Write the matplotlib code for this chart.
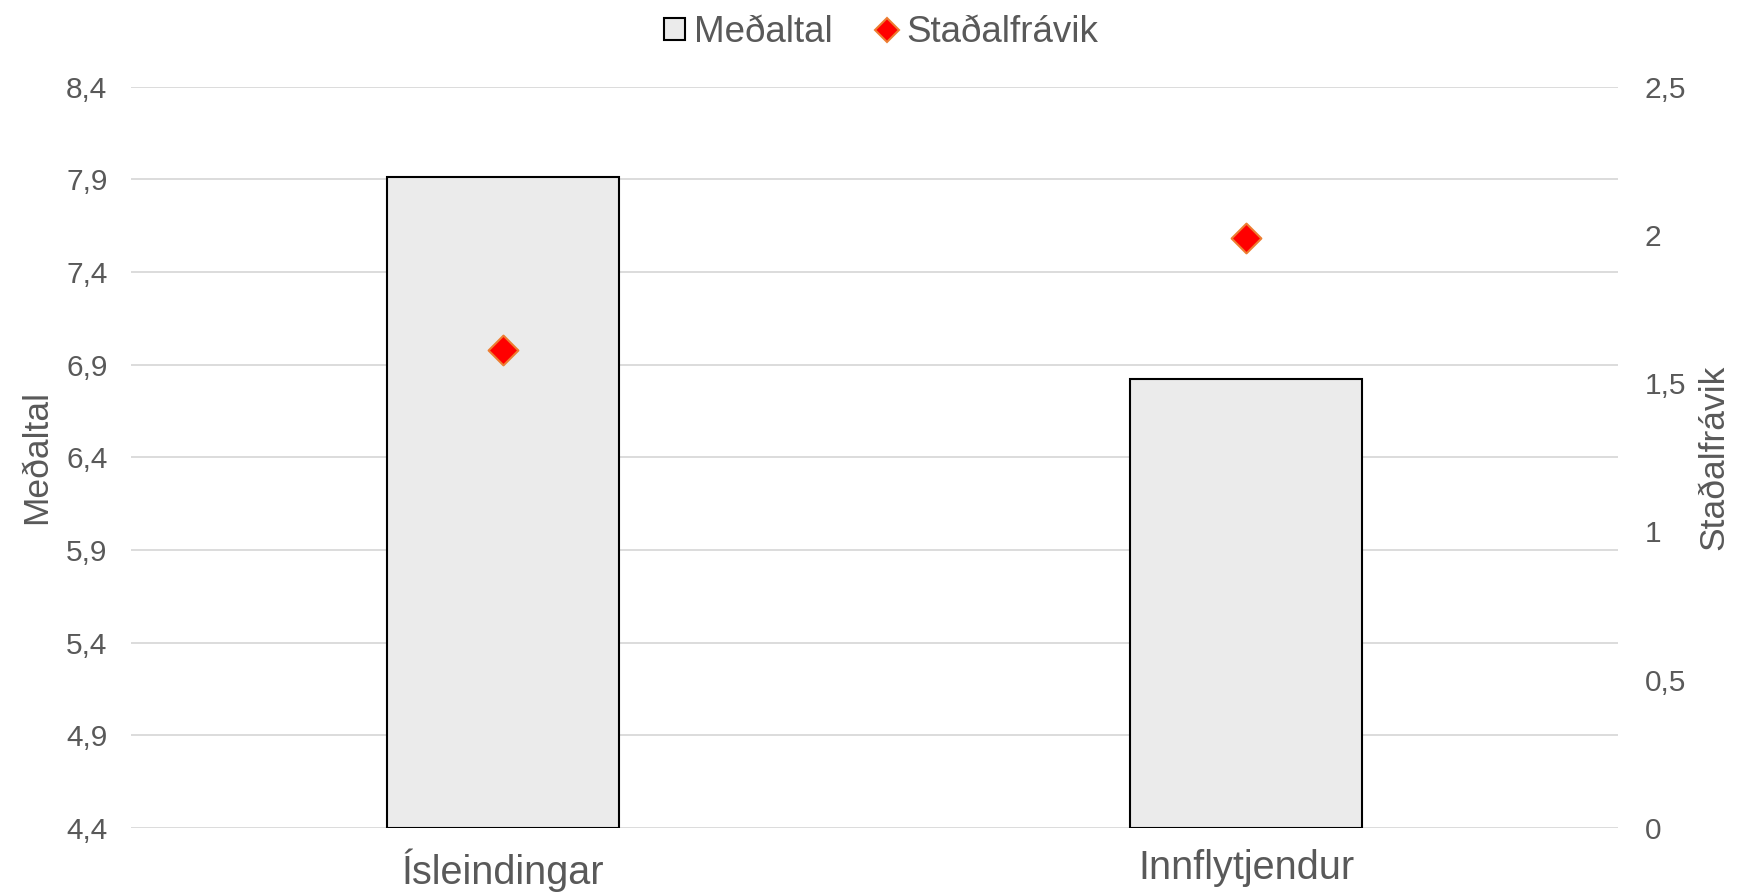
import matplotlib.pyplot as plt
from matplotlib.lines import Line2D
from matplotlib.patches import Patch
from matplotlib.ticker import FuncFormatter

# Gögn lesin af myndinni
hopar = ['Ísleindingar', 'Innflytjendur']
medaltal = [7.91, 6.82]
stadalfravik = [1.61, 1.99]

vinstri_ticks = [4.4, 4.9, 5.4, 5.9, 6.4, 6.9, 7.4, 7.9, 8.4]
haegri_ticks = [0, 0.5, 1, 1.5, 2, 2.5]

grar = '#595959'
plt.rcParams['font.family'] = ['Liberation Sans', 'DejaVu Sans']

fig = plt.figure(figsize=(17.4, 8.93), dpi=100)
ax = fig.add_axes([0.0753, 0.073, 0.8547, 0.830])
ax2 = ax.twinx()

x = list(range(len(hopar)))
ax.bar(x, [m - vinstri_ticks[0] for m in medaltal], bottom=vinstri_ticks[0], width=0.312,
       color='#EBEBEB', edgecolor='black', linewidth=1.5, zorder=3)
ax2.scatter(x, stadalfravik, marker='D', s=230, color='#FF0000', edgecolor='#ED7D31',
            linewidth=1.5, zorder=4)

ax.set_xlim(-0.5, 1.5)
ax.set_ylim(4.4, 8.4)
ax.set_yticks(vinstri_ticks)
ax2.set_ylim(0, 2.5)
ax2.set_yticks(haegri_ticks)

fmt = FuncFormatter(lambda v, p: ('%g' % round(v, 2)).replace('.', ','))
ax.yaxis.set_major_formatter(fmt)
ax2.yaxis.set_major_formatter(fmt)

ax.set_xticks(x)
ax.set_xticklabels(hopar, fontsize=28.5, color=grar)
ax.yaxis.grid(True, color='#D9D9D9', linewidth=1.3, zorder=0)
ax.set_axisbelow(True)

for a in (ax, ax2):
    for s in a.spines.values():
        s.set_visible(False)
    a.tick_params(length=0, labelcolor=grar)
    a.tick_params(axis='y', labelsize=21.5)
ax.tick_params(axis='y', pad=17)
ax2.tick_params(axis='y', pad=19)
ax.tick_params(axis='x', pad=15)

ax.set_ylabel('Meðaltal', fontsize=25.5, color=grar, labelpad=9)
ax2.set_ylabel('Staðalfrávik', fontsize=25.5, color=grar, labelpad=8)

handles = [
    Patch(facecolor='#EBEBEB', edgecolor='black', linewidth=1.5),
    Line2D([], [], marker='D', linestyle='none', markersize=12, markerfacecolor='#FF0000',
           markeredgecolor='#ED7D31', markeredgewidth=1.5),
]
fig.legend(handles, ['Meðaltal', 'Staðalfrávik'], loc='center', bbox_to_anchor=(0.5065, 0.964),
           ncol=2, frameon=False, fontsize=26.5, labelcolor=grar, handlelength=0.55,
           handleheight=0.55, handletextpad=0.25, columnspacing=1.2)

fig.savefig('out.png', dpi=100)
